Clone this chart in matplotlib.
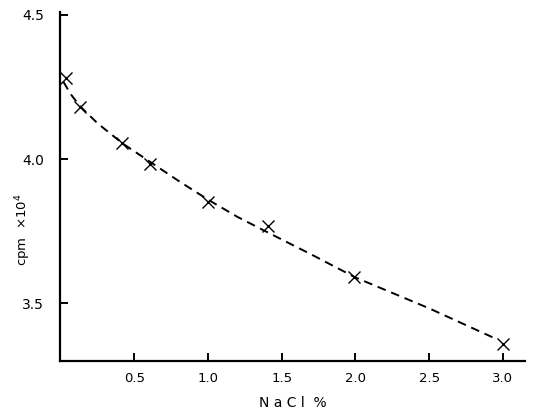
import matplotlib.pyplot as plt

# measured points (x markers)
nacl = [0.04, 0.13, 0.42, 0.61, 1.0, 1.41, 1.99, 3.0]
cpm = [4.28, 4.18, 4.055, 3.985, 3.85, 3.77, 3.59, 3.36]

# hand-drawn dashed curve
curve_x = [0.02, 0.07, 0.13, 0.25, 0.42, 0.61, 0.8, 1.0, 1.2, 1.41, 1.7, 2.0, 2.5, 2.95]
curve_y = [4.268, 4.225, 4.185, 4.125, 4.055, 3.99, 3.925, 3.86, 3.80, 3.745, 3.67, 3.59, 3.483, 3.378]

xticks = [0.5, 1.0, 1.5, 2.0, 2.5, 3.0]
xtick_labels = ["0.5", "1.0", "1.5", "2.0", "2.5", "3.0"]
yticks = [3.5, 4.0, 4.5]
ytick_labels = ["3.5", "4.0", "4.5"]

font = ["Liberation Sans Narrow", "DejaVu Sans"]

fig = plt.figure(figsize=(5.33, 4.17), dpi=100)
ax = fig.add_axes([0.1135, 0.134, 0.8715, 0.837])

ax.plot(curve_x, curve_y, color="black", linestyle=(0, (4.5, 3)), linewidth=1.4)
ax.plot(nacl, cpm, linestyle="none", marker="x", markersize=8,
        markeredgewidth=1.0, color="black")

ax.set_xlim(0, 3.15)
ax.set_ylim(3.30, 4.51)

for side in ["top", "right"]:
    ax.spines[side].set_visible(False)
for side in ["left", "bottom"]:
    ax.spines[side].set_linewidth(1.6)

ax.set_xticks(xticks)
ax.set_xticklabels(xtick_labels, family=font, fontsize=9.5)
ax.set_yticks(yticks)
ax.set_yticklabels(ytick_labels, family=font, fontsize=10)
ax.tick_params(axis="both", direction="in", length=6, width=1.4)
ax.tick_params(axis="x", pad=8)
ax.tick_params(axis="y", pad=12)

ax.set_xlabel("N a C l  %", family=font, fontsize=10, labelpad=8)
ax.set_ylabel("cpm  ×10$^4$", family=font, fontsize=9.5)
ax.yaxis.set_label_coords(-0.06, 0.375)

fig.savefig("out.png", dpi=100)
